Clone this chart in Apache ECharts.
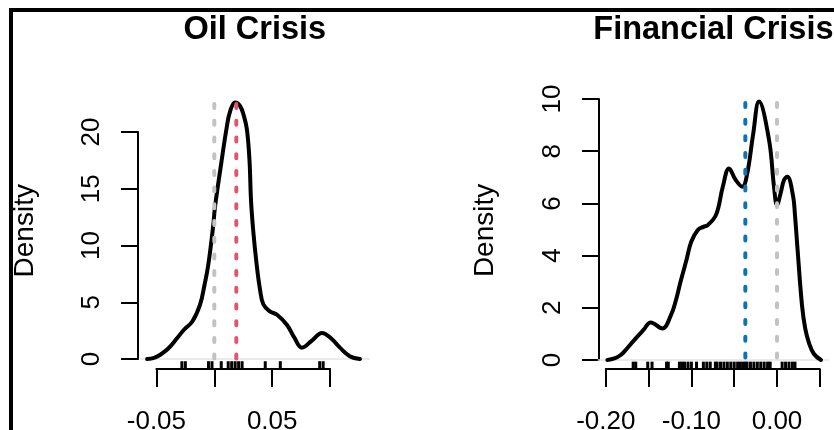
<!DOCTYPE html>
<html>
<head>
<meta charset="utf-8">
<script src="https://cdn.jsdelivr.net/npm/echarts@6/dist/echarts.min.js"></script>
<style>html,body{margin:0;padding:0;background:#fff}#c{width:834px;height:430px}</style>
</head>
<body>
<div id="c"></div>
<script>
// ---------- data ----------
const oilTitle = 'Oil Crisis';
const finTitle = 'Financial Crisis';
const yName = 'Density';

const oilX = [-0.058, -0.052, -0.047, -0.040, -0.032, -0.026, -0.019, -0.0123, -0.0085, -0.0052, -0.0009, 0.0006, 0.0058, 0.0107, 0.0136, 0.0179, 0.0222, 0.0256, 0.0282, 0.0304, 0.0317, 0.0337, 0.0366, 0.0395, 0.0424, 0.048, 0.0542, 0.0628, 0.069, 0.0757, 0.084, 0.093, 0.101, 0.1085, 0.117, 0.1258];
const oilDensity = [0, 0.1, 0.35, 0.9, 1.85, 2.6, 3.3, 4.8, 6.5, 8.3, 11.8, 13.4, 17.1, 20.4, 21.8, 22.6, 22.3, 21.4, 20.2, 17.5, 14.0, 11.2, 8.3, 6.1, 4.8, 4.2, 3.9, 3.0, 1.9, 1.0, 1.6, 2.3, 1.8, 1.0, 0.25, 0];
const oilRug = [-0.028, -0.025, -0.005, -0.002, 0.006, 0.012, 0.015, 0.018, 0.021, 0.024, 0.044, 0.057, 0.091, 0.094];
const oilRef = 0;        // grey dotted line
const oilMean = 0.019;   // red dotted line
const oilXTicks = [-0.05, 0, 0.05, 0.10];
const oilXLabels = ['-0.05', '0.05'];
const oilYTicks = [0, 5, 10, 15, 20];

const finX = [-0.1982, -0.19, -0.1826, -0.175, -0.165, -0.156, -0.1475, -0.1339, -0.1239, -0.118, -0.1127, -0.106, -0.1002, -0.0925, -0.086, -0.0808, -0.071, -0.0633, -0.056, -0.0483, -0.0405, -0.0347, -0.028, -0.021, -0.0093, -0.0035, 0, 0.0043, 0.0082, 0.012, 0.0187, 0.021, 0.0239, 0.0292, 0.033, 0.0374, 0.0432, 0.0514];
const finDensity = [0, 0.06, 0.19, 0.45, 0.83, 1.15, 1.44, 1.21, 1.72, 2.3, 3.0, 3.8, 4.53, 4.98, 5.1, 5.17, 5.58, 6.64, 7.34, 6.9, 6.64, 7.16, 8.62, 9.9, 8.43, 6.64, 5.94, 6.4, 6.9, 7.02, 6.3, 5.55, 4.29, 2.1, 1.2, 0.65, 0.23, 0];
const finRug = [-0.168, -0.165, -0.151, -0.146, -0.129, -0.127, -0.114, -0.111, -0.108, -0.104, -0.100, -0.094, -0.086, -0.082, -0.078, -0.072, -0.070, -0.066, -0.062, -0.058, -0.054, -0.050, -0.046, -0.043, -0.040, -0.037, -0.035, -0.031, -0.027, -0.023, -0.019, -0.015, -0.011, -0.008, 0.006, 0.010, 0.014, 0.018, 0.021];
const finRef = 0;
const finMean = -0.037;  // blue dotted line
const finXTicks = [-0.20, -0.15, -0.10, -0.05, 0, 0.05];
const finXLabels = ['-0.20', '-0.10', '0.00'];
const finYTicks = [0, 2, 4, 6, 8, 10];

// ---------- layout (pixel scales for each panel) ----------
const FONT = 'Liberation Sans, Arial, Helvetica, sans-serif';
const panels = [
  { title: oilTitle, x: oilX, d: oilDensity, rug: oilRug, ref: oilRef, mean: oilMean, meanColor: '#E0566E',
    xTicks: oilXTicks, xLabels: oilXLabels, yTicks: oilYTicks,
    x0: 214.3, xs: 1158, y0: 359, ys: 11.35,
    xMin: -0.0644, xMax: 0.1344, yMin: -0.9, yMax: 23.5,
    yAxisPx: 138, xAxisPx: 369, nameGap: 100, ylabMargin: 33 },
  { title: finTitle, x: finX, d: finDensity, rug: finRug, ref: finRef, mean: finMean, meanColor: '#0E72B5',
    xTicks: finXTicks, xLabels: finXLabels, yTicks: finYTicks,
    x0: 777, xs: 856, y0: 360, ys: 26.1,
    xMin: -0.2093, xMax: 0.0607, yMin: -0.37, yMax: 10.3,
    yAxisPx: 599, xAxisPx: 369, nameGap: 99, ylabMargin: 33 }
];

const grids = [], xAxes = [], yAxes = [], series = [], titles = [];
panels.forEach((p, i) => {
  const dataGrid = {
    left: p.x0 + p.xs * p.xMin, width: p.xs * (p.xMax - p.xMin),
    top: p.y0 - p.ys * p.yMax, height: p.ys * (p.yMax - p.yMin),
    outerBoundsMode: 'none', containLabel: false
  };
  const xt0 = p.xTicks[0], xt1 = p.xTicks[p.xTicks.length - 1];
  const yt0 = p.yTicks[0], yt1 = p.yTicks[p.yTicks.length - 1];
  const axisGrid = {
    left: p.x0 + p.xs * xt0, width: p.xs * (xt1 - xt0),
    top: p.y0 - p.ys * yt1, height: p.ys * (yt1 - yt0),
    outerBoundsMode: 'none', containLabel: false
  };
  const gD = grids.length; grids.push(dataGrid);
  const gA = grids.length; grids.push(axisGrid);

  // data grid axes (hidden scales)
  const xD = xAxes.length;
  xAxes.push({ gridIndex: gD, type: 'value', min: p.xMin, max: p.xMax, show: false });
  const yD = yAxes.length;
  yAxes.push({ gridIndex: gD, type: 'value', min: p.yMin, max: p.yMax,
    axisLine: { show: false, onZero: false }, axisTick: { show: false }, axisLabel: { show: false }, splitLine: { show: false },
    name: yName, nameLocation: 'middle', nameRotate: 90, nameGap: p.nameGap,
    nameTextStyle: { fontFamily: FONT, fontSize: 28, color: '#000' } });

  // visible R-style axes
  const xStep = p.xTicks[1] - p.xTicks[0];
  xAxes.push({ gridIndex: gA, type: 'value', min: xt0, max: xt1, interval: xStep, position: 'bottom',
    offset: p.xAxisPx - (axisGrid.top + axisGrid.height),
    axisLine: { show: true, onZero: false, lineStyle: { color: '#000', width: 2 } },
    axisTick: { show: true, length: 18, lineStyle: { color: '#000', width: 2 } },
    splitLine: { show: false },
    axisLabel: { show: true, margin: 40, fontFamily: FONT, fontSize: 26, color: '#000',
      showMinLabel: true, showMaxLabel: true, hideOverlap: false,
      formatter: v => { const s = (Math.abs(v) < 1e-9 ? 0 : v).toFixed(2); return p.xLabels.includes(s) ? s : ''; } } });
  const yStep = p.yTicks[1] - p.yTicks[0];
  yAxes.push({ gridIndex: gA, type: 'value', min: yt0, max: yt1, interval: yStep, position: 'left',
    offset: axisGrid.left - p.yAxisPx,
    axisLine: { show: true, onZero: false, lineStyle: { color: '#000', width: 2 } },
    axisTick: { show: true, length: 17, lineStyle: { color: '#000', width: 2 } },
    splitLine: { show: false },
    axisLabel: { show: true, rotate: 90, margin: p.ylabMargin, fontFamily: FONT, fontSize: 26, color: '#000',
      showMinLabel: true, showMaxLabel: true } });

  // zero line
  series.push({ type: 'line', xAxisIndex: xD, yAxisIndex: yD, silent: true, showSymbol: false, z: 1,
    data: [[p.xMin, 0], [p.xMax, 0]], lineStyle: { color: '#E3E3E3', width: 1.5 } });
  // rug
  series.push({ type: 'custom', xAxisIndex: xD, yAxisIndex: yD, silent: true, z: 2,
    data: p.rug.map(v => [v, p.yMin]),
    renderItem: (params, api) => {
      const c = api.coord([api.value(0), api.value(1)]);
      return { type: 'line', shape: { x1: c[0], y1: c[1], x2: c[0], y2: c[1] - 8 },
        style: { stroke: '#000', lineWidth: 3 } };
    } });
  // density curve
  series.push({ type: 'line', xAxisIndex: xD, yAxisIndex: yD, silent: true, showSymbol: false, z: 3,
    smooth: 0.4, data: p.x.map((v, k) => [v, p.d[k]]),
    lineStyle: { color: '#000', width: 4, cap: 'round', join: 'round' } });
  // reference (grey) and mean (coloured) dotted lines
  [[p.ref, '#C2C2C2'], [p.mean, p.meanColor]].forEach(([v, col], k) => {
    series.push({ type: 'line', xAxisIndex: xD, yAxisIndex: yD, silent: true, showSymbol: false, z: 4 + k,
      data: [[v, p.yMax], [v, p.yMin]],
      lineStyle: { color: col, width: 4, type: [4, 12.7], dashOffset: 4.9, cap: 'round' } });
  });

  titles.push({ text: p.title, left: dataGrid.left + dataGrid.width / 2, top: 14, textAlign: 'center', padding: 0,
    textStyle: { fontFamily: FONT, fontSize: 32.5, fontWeight: 'bold', color: '#000' } });
});

const chart = echarts.init(document.getElementById('c'), null, { renderer: 'canvas' });
chart.setOption({
  animation: false,
  backgroundColor: '#fff',
  title: titles,
  grid: grids,
  xAxis: xAxes,
  yAxis: yAxes,
  series: series,
  graphic: [{ type: 'polyline', silent: true, z: 100,
    shape: { points: [[11, 432], [11, 10], [836, 10]] },
    style: { stroke: '#000', lineWidth: 4, fill: null } }]
});
</script>
</body>
</html>
